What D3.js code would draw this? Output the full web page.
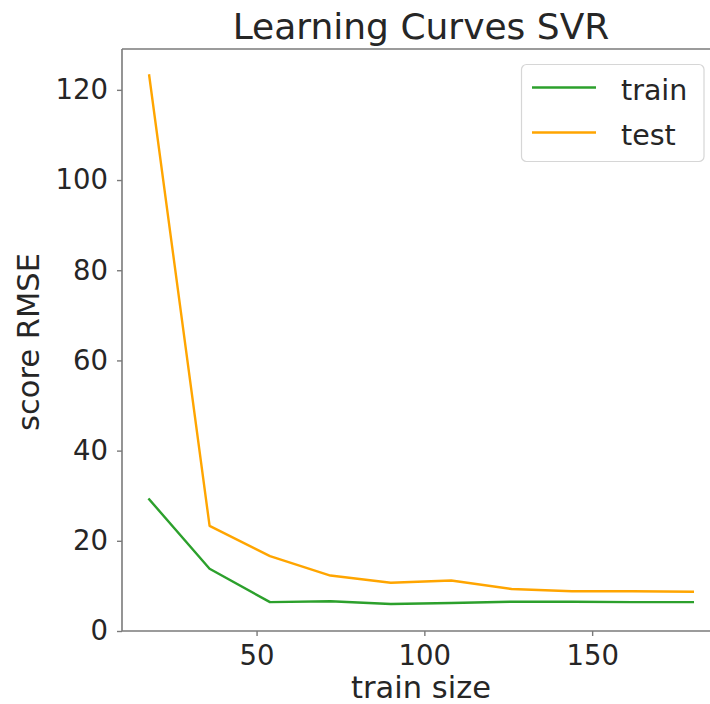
<!DOCTYPE html>
<html>
<head>
<meta charset="utf-8">
<script src="https://cdn.jsdelivr.net/npm/d3@7"></script>
<style>
  html, body { margin: 0; padding: 0; background: #fff; }
  svg { display: block; font-family: "DejaVu Sans", sans-serif; }
</style>
</head>
<body>
<svg id="chart" width="710" height="704"></svg>
<script>
// Learning curve data: RMSE against number of training samples
const trainSizes = [18, 36, 54, 72, 90, 108, 126, 144, 162, 180];
const trainScores = [29.2, 13.8, 6.4, 6.6, 6.0, 6.2, 6.5, 6.5, 6.4, 6.4];
const testScores = [123.2, 23.3, 16.6, 12.3, 10.7, 11.2, 9.3, 8.8, 8.8, 8.7];
const seriesNames = ["train", "test"];
const seriesColors = ["#2ca02c", "#ffa500"];
const xTicks = [50, 100, 150];
const yTicks = [0, 20, 40, 60, 80, 100, 120];

const svg = d3.select("#chart");
const plotLeft = 122, plotRight = 720, plotTop = 49, plotBottom = 631;
const textColor = "#262626";
const spineColor = "#7a7a7a";

// x limits padded by 5% of the data span, y starts at zero
const xSpan = d3.max(trainSizes) - d3.min(trainSizes);
const x = d3.scaleLinear()
  .domain([d3.min(trainSizes) - 0.05 * xSpan, d3.max(trainSizes) + 0.05 * xSpan])
  .range([plotLeft, plotRight]);
const allScores = trainScores.concat(testScores);
const yMax = d3.max(allScores) + 0.05 * (d3.max(allScores) - d3.min(allScores));
const y = d3.scaleLinear().domain([0, yMax]).range([plotBottom, plotTop]);

// Axes frame (top and left spines; the right edge runs past the canvas)
svg.append("line").attr("x1", plotLeft).attr("x2", plotRight).attr("y1", plotTop).attr("y2", plotTop)
  .attr("stroke", spineColor).attr("stroke-width", 1.6);

const xAxis = svg.append("g").attr("transform", `translate(0,${plotBottom})`)
  .call(d3.axisBottom(x).tickValues(xTicks).tickSize(5).tickPadding(9).tickFormat(d3.format("d")));
const yAxis = svg.append("g").attr("transform", `translate(${plotLeft},0)`)
  .call(d3.axisLeft(y).tickValues(yTicks).tickSize(5).tickPadding(9).tickFormat(d3.format("d")));

[xAxis, yAxis].forEach(g => {
  g.select(".domain").attr("stroke", spineColor).attr("stroke-width", 1.6);
  g.selectAll(".tick line").attr("stroke", spineColor).attr("stroke-width", 1.4);
  g.selectAll(".tick text").attr("fill", textColor)
    .style("font-size", "27.5px").style("font-family", "DejaVu Sans, sans-serif");
});
xAxis.select(".domain").attr("d", `M${plotLeft},0H${plotRight}`);
yAxis.select(".domain").attr("d", `M0,${plotBottom}V${plotTop}`);

// Series lines
const line = d3.line().x((d, i) => x(trainSizes[i])).y(d => y(d));
[trainScores, testScores].forEach((vals, k) => {
  svg.append("path").datum(vals)
    .attr("d", line)
    .attr("fill", "none")
    .attr("stroke", seriesColors[k])
    .attr("stroke-width", 2.4)
    .attr("stroke-linejoin", "round")
    .attr("stroke-linecap", "square");
});

// Title and axis labels
svg.append("text").attr("x", (plotLeft + plotRight) / 2).attr("y", 39)
  .attr("text-anchor", "middle").attr("fill", textColor)
  .style("font-size", "36px").text("Learning Curves SVR");
svg.append("text").attr("x", (plotLeft + plotRight) / 2).attr("y", 698)
  .attr("text-anchor", "middle").attr("fill", textColor)
  .style("font-size", "30.5px").text("train size");
svg.append("text")
  .attr("transform", `translate(39,342) rotate(-90)`)
  .attr("text-anchor", "middle").attr("fill", textColor)
  .style("font-size", "30.5px").text("score RMSE");

// Legend
const legend = svg.append("g");
legend.append("rect").attr("x", 521.5).attr("y", 64.5).attr("width", 182.5).attr("height", 97)
  .attr("rx", 5).attr("fill", "#fff").attr("fill-opacity", 0.8)
  .attr("stroke", "#d6d6d6").attr("stroke-width", 1.2);
seriesNames.forEach((name, k) => {
  const cy = 87.5 + k * 45;
  legend.append("line").attr("x1", 532).attr("x2", 596).attr("y1", cy).attr("y2", cy)
    .attr("stroke", seriesColors[k]).attr("stroke-width", 2.4);
  legend.append("text").attr("x", 621).attr("y", cy + 12.5)
    .attr("fill", textColor).style("font-size", "28.5px").text(name);
});
</script>
</body>
</html>
